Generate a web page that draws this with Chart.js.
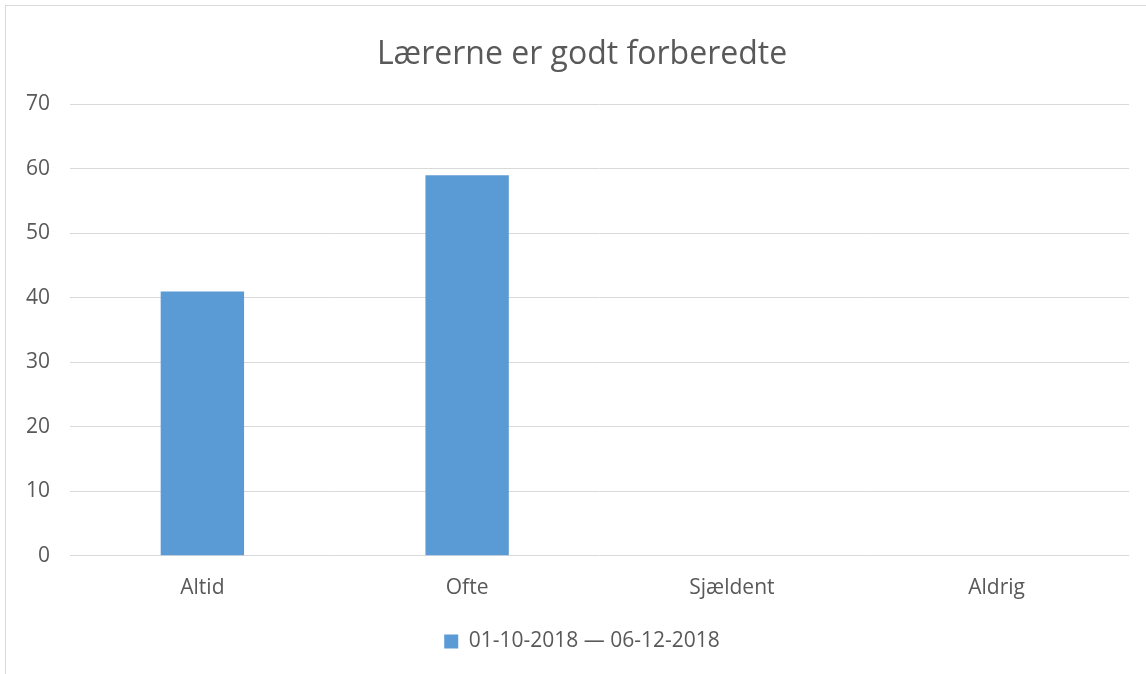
<!DOCTYPE html>
<html>
<head>
<meta charset="utf-8">
<script src="https://cdn.jsdelivr.net/npm/chart.js@4"></script>
<style>
  html, body { margin: 0; padding: 0; background: #fff; overflow: hidden; }
  #wrap {
    position: absolute; left: 5px; top: 5px;
    width: 1176px; height: 674px;
    border: 1px solid #d9d9d9; box-sizing: border-box;
  }
  #chart { display: block; }
</style>
</head>
<body>
<div id="wrap"><canvas id="chart" width="1170" height="668"></canvas></div>
<script>
const chartTitle = 'Lærerne er godt forberedte';
const categories = ['Altid', 'Ofte', 'Sjældent', 'Aldrig'];
const seriesLabel = '01-10-2018 — 06-12-2018';
const seriesValues = [41, 59, 0, 0];
const yTicks = [0, 10, 20, 30, 40, 50, 60, 70];

const textColor = '#595959';
const fontFamily = '"Open Sans", "Liberation Sans", sans-serif';

const ctx = document.getElementById('chart').getContext('2d');
const chart = new Chart(ctx, {
    type: 'bar',
    data: {
        labels: categories,
        datasets: [{
            label: seriesLabel,
            data: seriesValues,
            backgroundColor: '#5b9bd5',
            borderWidth: 0,
            barPercentage: 0.5,
            categoryPercentage: 0.63
        }]
    },
    options: {
        responsive: false,
        animation: false,
        layout: { padding: { left: 0, right: 18, top: 0, bottom: 12 } },
        plugins: {
            title: {
                display: true,
                text: chartTitle,
                color: textColor,
                font: { family: fontFamily, size: 32, weight: 'normal' },
                padding: { top: 30, bottom: 30 }
            },
            legend: {
                position: 'bottom',
                labels: {
                    color: textColor,
                    font: { family: fontFamily, size: 21 },
                    boxWidth: 14,
                    boxHeight: 14,
                    padding: 10
                }
            },
            tooltip: { enabled: false }
        },
        scales: {
            x: {
                grid: { display: false, drawTicks: false },
                border: { display: false },
                ticks: {
                    color: textColor,
                    font: { family: fontFamily, size: 21 },
                    padding: 20
                }
            },
            y: {
                min: 0,
                max: 70,
                afterFit: (scale) => { scale.width = 64; },
                afterBuildTicks: (scale) => {
                    scale.ticks = yTicks.map(v => ({ value: v }));
                },
                grid: { color: '#d9d9d9', lineWidth: 1, drawTicks: false },
                border: { display: false },
                ticks: {
                    color: textColor,
                    font: { family: fontFamily, size: 21 },
                    padding: 20
                }
            },
            // empty spacer on the right so the plot ends where the original does
            spacer: {
                type: 'linear',
                position: 'right',
                afterFit: (scale) => { scale.width = 29; },
                grid: { display: false, drawTicks: false },
                border: { display: false },
                ticks: { display: false }
            }
        }
    }
});
</script>
</body>
</html>
